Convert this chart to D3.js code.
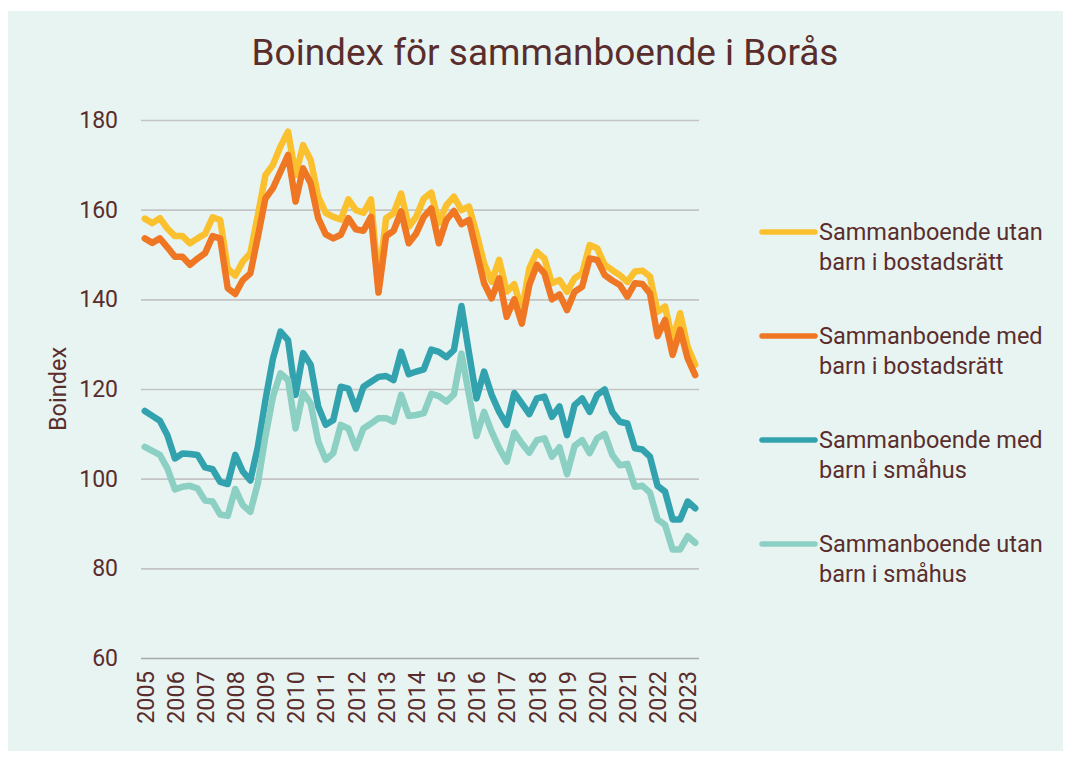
<!DOCTYPE html>
<html>
<head>
<meta charset="utf-8">
<script src="https://cdn.jsdelivr.net/npm/d3@7"></script>
<style>
  html, body { margin: 0; padding: 0; background: #fff; }
  svg { display: block; font-family: Roboto, "Noto Sans", sans-serif; }
</style>
</head>
<body>
<svg id="chart" width="1071" height="758"></svg>
<script>
// years on the category axis, one label per year (quarterly data, 2005 K1 - 2023 K2)
const years = [2005, 2006, 2007, 2008, 2009, 2010, 2011, 2012, 2013, 2014,
  2015, 2016, 2017, 2018, 2019, 2020, 2021, 2022, 2023];
const quarters = years.flatMap(y => [1, 2, 3, 4].map(q => y + "K" + q)).slice(0, 74);

const yTicks = [60, 80, 100, 120, 140, 160, 180];

const utanBarnBostadsratt = [
  158.0, 157.0, 158.1, 155.8, 154.1, 154.1, 152.5, 153.6, 154.6, 158.3, 157.7, 146.9, 145.3, 148.4, 150.3, 158.8,
  167.7, 170.0, 174.1, 177.4, 167.7, 174.4, 171.1, 162.9, 159.3, 158.4, 157.8, 162.3, 159.9, 159.3, 162.3, 143.5,
  158.1, 159.2, 163.6, 156.2, 158.4, 162.5, 163.8, 157.0, 161.0, 162.9, 159.9, 160.7, 154.7, 148.0, 143.9, 148.8,
  141.7, 143.4, 137.5, 146.9, 150.6, 149.1, 143.6, 144.3, 141.7, 144.7, 145.8, 152.1, 151.4, 147.7, 146.5, 145.4,
  143.9, 146.2, 146.4, 145.1, 137.2, 138.4, 130.9, 136.9, 129.4, 125.4];

const medBarnBostadsratt = [
  153.6, 152.6, 153.6, 151.6, 149.5, 149.5, 147.7, 149.1, 150.3, 154.1, 153.6, 142.5, 141.2, 144.3, 145.8, 154.0,
  162.5, 164.8, 168.5, 172.2, 161.8, 169.2, 165.9, 158.1, 154.5, 153.6, 154.4, 158.1, 155.6, 155.3, 158.4, 141.5,
  154.1, 155.3, 159.6, 152.5, 154.7, 158.4, 160.3, 152.5, 157.7, 159.7, 156.8, 157.7, 150.6, 143.6, 140.2, 144.7,
  136.1, 140.0, 134.6, 143.2, 147.7, 145.8, 140.0, 141.1, 137.6, 141.7, 142.8, 149.1, 148.8, 145.4, 144.2, 143.2,
  140.6, 143.6, 143.4, 141.3, 131.8, 135.4, 127.6, 133.2, 126.8, 123.1];

const medBarnSmahus = [
  115.1, 114.0, 112.9, 109.7, 104.5, 105.6, 105.5, 105.3, 102.5, 102.1, 99.3, 98.8, 105.3, 101.6, 99.6, 107.1,
  117.5, 126.8, 132.8, 130.9, 118.7, 128.0, 125.4, 116.1, 112.0, 113.1, 120.5, 120.1, 115.5, 120.5, 121.6, 122.7,
  122.9, 122.0, 128.3, 123.3, 123.9, 124.4, 128.8, 128.3, 127.1, 128.7, 138.5, 128.0, 117.9, 123.9, 118.7, 114.9,
  112.0, 119.1, 116.8, 114.4, 117.9, 118.3, 113.8, 116.1, 109.7, 116.4, 117.9, 114.9, 118.7, 119.9, 114.9, 112.7,
  112.3, 106.8, 106.5, 104.9, 98.4, 97.1, 90.9, 90.9, 94.9, 93.4];

const utanBarnSmahus = [
  107.1, 106.2, 105.3, 102.3, 97.6, 98.2, 98.4, 97.8, 95.1, 94.9, 92.0, 91.7, 97.7, 94.1, 92.6, 99.0,
  109.4, 118.3, 123.5, 122.0, 111.2, 119.2, 116.8, 108.3, 104.2, 105.7, 112.0, 111.2, 106.8, 111.2, 112.3, 113.5,
  113.5, 112.7, 118.7, 114.0, 114.2, 114.6, 118.9, 118.4, 117.2, 118.8, 127.9, 118.7, 109.5, 114.9, 110.5, 106.8,
  103.8, 110.3, 107.9, 105.8, 108.6, 109.0, 104.9, 107.0, 101.0, 107.3, 108.6, 105.7, 109.0, 110.0, 105.3, 103.0,
  103.3, 98.2, 98.4, 96.9, 90.9, 89.7, 84.2, 84.2, 87.2, 85.7];

const seriesNames = [
  ["Sammanboende utan", "barn i bostadsrätt"],
  ["Sammanboende med", "barn i bostadsrätt"],
  ["Sammanboende med", "barn i småhus"],
  ["Sammanboende utan", "barn i småhus"]
];
const seriesColors = ["#fbc02d", "#ef7623", "#32a3ae", "#8ccfc3"];
const seriesValues = [utanBarnBostadsratt, medBarnBostadsratt, medBarnSmahus, utanBarnSmahus];

const textColor = "#5a2d2d";
const svg = d3.select("#chart");

// bakgrund
svg.append("rect")
  .attr("x", 8).attr("y", 11)
  .attr("width", 1055).attr("height", 740)
  .attr("fill", "#e8f4f1");

svg.append("text")
  .attr("x", 545).attr("y", 65)
  .attr("text-anchor", "middle")
  .attr("font-size", 37)
  .attr("fill", textColor)
  .text("Boindex för sammanboende i Borås");

const plot = { left: 141, right: 699, top: 120, bottom: 658 };

const x = d3.scalePoint()
  .domain(quarters)
  .range([plot.left, plot.right])
  .padding(0.5);

const y = d3.scaleLinear()
  .domain([60, 180])
  .range([plot.bottom, plot.top]);

// y-axel med rutnät
const yAxis = svg.append("g")
  .attr("transform", `translate(${plot.left},0)`)
  .call(d3.axisLeft(y).tickValues(yTicks).tickSize(-(plot.right - plot.left)).tickPadding(23));
yAxis.select(".domain").remove();
yAxis.selectAll(".tick line")
  .attr("stroke", d => d === 60 ? "#a9a9a9" : "#c4c4c4")
  .attr("stroke-width", 1.6);
yAxis.selectAll(".tick text")
  .attr("fill", textColor)
  .attr("font-size", 23)
  .attr("font-family", "Roboto, sans-serif");

svg.append("text")
  .attr("transform", `translate(66,${(plot.top + plot.bottom) / 2}) rotate(-90)`)
  .attr("text-anchor", "middle")
  .attr("font-size", 23.5)
  .attr("fill", textColor)
  .text("Boindex");

// x-axel, en etikett per år
const xAxis = svg.append("g")
  .attr("transform", `translate(0,${plot.bottom})`)
  .call(d3.axisBottom(x)
    .tickValues(quarters.filter((q, i) => i % 4 === 0))
    .tickFormat(q => q.slice(0, 4))
    .tickSize(0));
xAxis.select(".domain").remove();
xAxis.selectAll(".tick text")
  .attr("fill", textColor)
  .attr("font-size", 23.5)
  .attr("font-family", "Roboto, sans-serif")
  .attr("text-anchor", "end")
  .attr("dy", "0.35em")
  .attr("transform", "translate(0,13) rotate(-90)")
  .attr("y", 0);

const line = d3.line()
  .x((d, i) => x(quarters[i]))
  .y(d => y(d));

svg.append("g")
  .selectAll("path")
  .data(seriesValues)
  .enter().append("path")
  .attr("d", line)
  .attr("fill", "none")
  .attr("stroke", (d, i) => seriesColors[i])
  .attr("stroke-width", 6.5)
  .attr("stroke-linejoin", "round")
  .attr("stroke-linecap", "round");

// förklaring
const legend = svg.append("g")
  .selectAll("g")
  .data(seriesNames)
  .enter().append("g")
  .attr("transform", (d, i) => `translate(762,${232 + i * 104})`);

legend.append("line")
  .attr("x1", 0).attr("x2", 53)
  .attr("stroke", (d, i) => seriesColors[i])
  .attr("stroke-width", 5.5)
  .attr("stroke-linecap", "round");

legend.each(function(d) {
  const g = d3.select(this);
  d.forEach((row, j) => {
    g.append("text")
      .attr("x", 57)
      .attr("y", 8 + j * 30)
      .attr("font-size", 23.5)
      .attr("fill", textColor)
      .text(row);
  });
});
</script>
</body>
</html>
